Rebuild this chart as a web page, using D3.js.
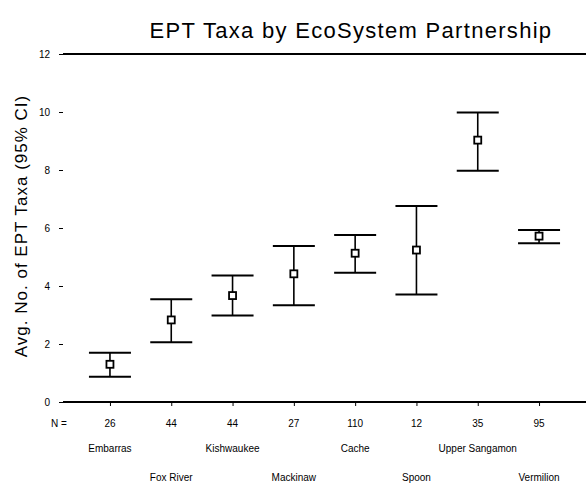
<!DOCTYPE html>
<html>
<head>
<meta charset="utf-8">
<script src="https://cdn.jsdelivr.net/npm/d3@7"></script>
<style>
  html, body { margin: 0; padding: 0; background: #fff; }
  svg { display: block; font-family: "Liberation Sans", Arial, sans-serif; }
</style>
</head>
<body>
<svg id="chart" width="587" height="489"></svg>
<script>
// EcoSystem partnerships, in plot order
const partnerships = ["Embarras", "Fox River", "Kishwaukee", "Mackinaw", "Cache", "Spoon", "Upper Sangamon", "Vermilion"];
// mean number of EPT taxa per site and its 95% confidence interval
const meanTaxa = [1.30, 2.83, 3.67, 4.42, 5.13, 5.24, 9.03, 5.72];
const ciLower  = [0.87, 2.06, 2.98, 3.34, 4.46, 3.71, 7.97, 5.47];
const ciUpper  = [1.70, 3.54, 4.36, 5.38, 5.76, 6.76, 9.98, 5.93];
// number of sites sampled in each partnership
const sampleN  = [26, 44, 44, 27, 110, 12, 35, 95];
// y axis tick values
const yTicks   = [0, 2, 4, 6, 8, 10, 12];

const svg = d3.select("#chart");
const plotLeft = 63, plotRight = 586, plotTop = 54, plotBottom = 402;

const x = d3.scalePoint()
  .domain(partnerships)
  .range([plotLeft, plotRight])
  .padding(0.766);

const y = d3.scaleLinear()
  .domain([0, 12])
  .range([plotBottom, plotTop]);

// title
svg.append("text")
  .attr("x", 351).attr("y", 38)
  .attr("text-anchor", "middle")
  .attr("font-size", 22)
  .attr("letter-spacing", 1.3)
  .attr("fill", "#000")
  .text("EPT Taxa by EcoSystem Partnership");

// frame lines (top and bottom only)
[plotTop, plotBottom].forEach(v => {
  svg.append("line")
    .attr("x1", plotLeft).attr("x2", plotRight)
    .attr("y1", v).attr("y2", v)
    .attr("stroke", "#000").attr("stroke-width", 2);
});

// y axis: ticks and labels without a spine
const yAxis = d3.axisLeft(y).tickValues(yTicks).tickSize(4).tickPadding(9);
const gy = svg.append("g").attr("transform", `translate(${plotLeft},0)`).call(yAxis);
gy.select(".domain").remove();
gy.selectAll("text").attr("font-size", 10).attr("font-family", "Liberation Sans, Arial, sans-serif");

// y axis title
svg.append("text")
  .attr("transform", `translate(27,226) rotate(-90)`)
  .attr("text-anchor", "middle")
  .attr("font-size", 17)
  .attr("letter-spacing", 1)
  .text("Avg. No. of EPT Taxa (95% CI)");

// x axis ticks
const xAxis = d3.axisBottom(x).tickSize(4).tickFormat("");
const gx = svg.append("g").attr("transform", `translate(0,${plotBottom})`).call(xAxis);
gx.select(".domain").remove();

// N row
svg.append("text")
  .attr("x", 59).attr("y", 427)
  .attr("text-anchor", "middle")
  .attr("font-size", 10)
  .text("N =");
svg.selectAll("text.nval")
  .data(partnerships)
  .join("text")
  .attr("class", "nval")
  .attr("x", d => x(d))
  .attr("y", 427)
  .attr("text-anchor", "middle")
  .attr("font-size", 10)
  .text((d, i) => sampleN[i]);

// category labels, staggered on two rows
svg.selectAll("text.cat")
  .data(partnerships)
  .join("text")
  .attr("class", "cat")
  .attr("x", d => x(d))
  .attr("y", (d, i) => i % 2 === 0 ? 452 : 481)
  .attr("text-anchor", "middle")
  .attr("font-size", 10)
  .text(d => d);

// error bars
const capHalf = 21;
const bars = svg.append("g")
  .selectAll("g")
  .data(partnerships)
  .join("g");

bars.append("line")
  .attr("x1", d => x(d)).attr("x2", d => x(d))
  .attr("y1", (d, i) => y(ciUpper[i])).attr("y2", (d, i) => y(ciLower[i]))
  .attr("stroke", "#000").attr("stroke-width", 1.6);
bars.append("line")
  .attr("x1", d => x(d) - capHalf).attr("x2", d => x(d) + capHalf)
  .attr("y1", (d, i) => y(ciUpper[i])).attr("y2", (d, i) => y(ciUpper[i]))
  .attr("stroke", "#000").attr("stroke-width", 2);
bars.append("line")
  .attr("x1", d => x(d) - capHalf).attr("x2", d => x(d) + capHalf)
  .attr("y1", (d, i) => y(ciLower[i])).attr("y2", (d, i) => y(ciLower[i]))
  .attr("stroke", "#000").attr("stroke-width", 2);
// mean markers
bars.append("rect")
  .attr("x", d => x(d) - 3.5)
  .attr("y", (d, i) => y(meanTaxa[i]) - 3.5)
  .attr("width", 7).attr("height", 7)
  .attr("fill", "#fff")
  .attr("stroke", "#000").attr("stroke-width", 1.8);
</script>
</body>
</html>
